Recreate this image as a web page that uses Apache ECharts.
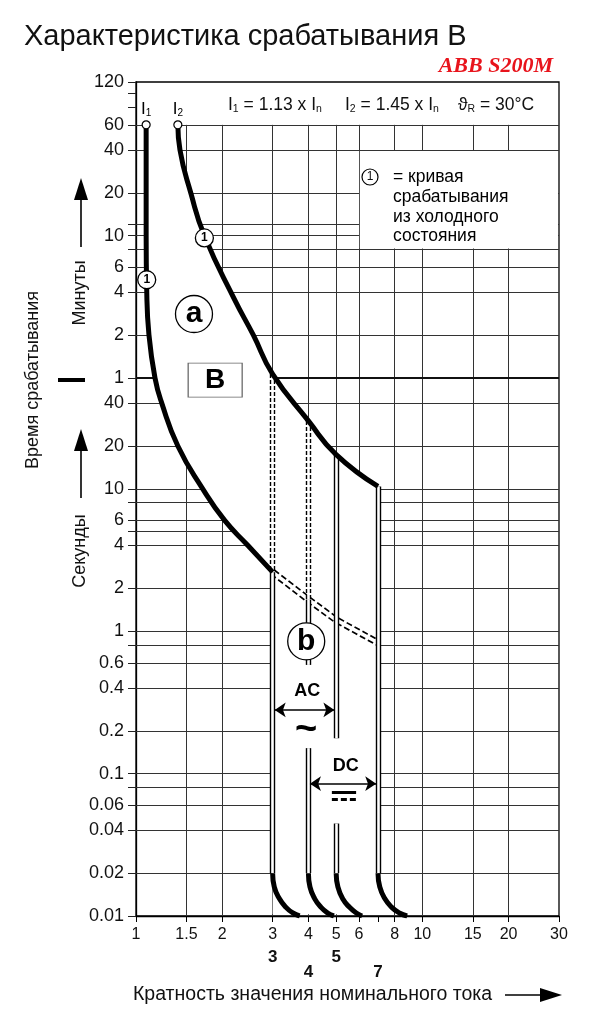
<!DOCTYPE html>
<html>
<head>
<meta charset="utf-8">
<script src="https://cdn.jsdelivr.net/npm/echarts@6/dist/echarts.min.js"></script>
<style>
  html, body { margin: 0; padding: 0; background: #fff; }
  #chart { width: 613px; height: 1024px; }
</style>
</head>
<body>
<div id="chart"></div>
<script>
// x: multiple of rated current, y: tripping time in seconds (minutes above 60 s)
const xLabelValues = [1, 1.5, 2, 3, 4, 5, 6, 8, 10, 15, 20, 30];
const xTickValues = [1, 1.5, 2, 3, 4, 5, 6, 7, 8, 10, 15, 20, 30];
const xGridValues = [1.5, 2, 3, 4, 5, 6, 8, 10, 15, 20];
const xBoldRow1 = [3, 5];
const xBoldRow2 = [4, 7];

const yLabelValues = [7200, 3600, 2400, 1200, 600, 360, 240, 120, 60, 40, 20, 10, 6, 4, 2, 1, 0.6, 0.4, 0.2, 0.1, 0.06, 0.04, 0.02, 0.01];
const yMinorValues = [6000, 4800, 720, 480, 8, 5, 0.8, 0.08];
const yGridValues = [3600, 2400, 1200, 720, 600, 480, 360, 240, 120, 60, 40, 20, 10, 8, 6, 5, 4, 2, 1, 0.8, 0.6, 0.4, 0.2, 0.1, 0.08, 0.06, 0.04, 0.02];

// tripping curves
const curveI1 = [[1.085, 3600], [1.085, 600], [1.09, 250], [1.11, 120], [1.165, 60], [1.23, 40], [1.40, 20], [1.71, 10], [2.04, 6], [2.46, 4], [3, 2.6]];
const curveI2 = [[1.40, 3600], [1.424, 2400], [1.553, 1200], [1.733, 600], [2.205, 215], [2.57, 120], [3, 64], [4, 30], [5, 17.4], [7, 10.4]];
const curveWarm = [[3, 2.6], [4, 1.67], [5, 1.2], [7, 0.83]];
const bend3 = [[3, 0.02], [3.04, 0.016], [3.17, 0.0132], [3.34, 0.0115], [3.53, 0.0105], [3.73, 0.01]];
const bend4 = [[4, 0.02], [4.05, 0.016], [4.21, 0.0132], [4.43, 0.0115], [4.67, 0.0105], [4.91, 0.01]];
const bend5 = [[5, 0.02], [5.07, 0.016], [5.27, 0.0132], [5.57, 0.0115], [5.88, 0.0105], [6.16, 0.01]];
const bend7 = [[7, 0.02], [7.10, 0.016], [7.40, 0.0132], [7.82, 0.0115], [8.31, 0.0105], [8.85, 0.01]];

// double vertical limits: [x, from t, to t]
const dashedLimits = [[3, 64, 2.6], [4, 30, 1.67]];
const solidLimits = [[3, 2.6, 0.02], [4, 1.67, 0.58], [4, 0.151, 0.02], [5, 17.4, 0.177], [5, 0.0446, 0.02], [7, 10.4, 0.02]];

const FONT = '"Liberation Sans", Arial, sans-serif';

const chart = echarts.init(document.getElementById('chart'));

const num = v => String(parseFloat(Number(v).toPrecision(3)));
const fmtY = v => num(v >= 60 ? v / 60 : v);

const gridLines = [
  ...xGridValues.map(x => [{ coord: [x, 0.01] }, { coord: [x, 3600] }]),
  ...yGridValues.map(t => [
    { coord: [1, t], lineStyle: t === 60 ? { width: 1.8, color: '#111' } : undefined },
    { coord: [30, t] }
  ])
];

const limitLine = (arr, dashed) => arr.map(([x, t0, t1]) => [
  { coord: [x, t0], lineStyle: dashed ? { type: [4, 2] } : undefined },
  { coord: [x, t1] }
]);

const curveSeries = data => ({
  type: 'line', data, z: 8, silent: true, showSymbol: false, smooth: 0.5,
  lineStyle: { color: '#000', width: 5, cap: 'butt' }
});

const boldRow = (arr, dy) => arr.map(x => ({
  coord: [x, 0.01], symbolSize: 0,
  label: { show: true, formatter: String(x), offset: [0, dy], fontSize: 17, fontWeight: 'bold', color: '#111', fontFamily: FONT }
}));

const circleMark = (coord, text, size, fontSize) => ({
  coord, symbol: 'circle', symbolSize: size,
  itemStyle: { color: '#fff', borderColor: '#000', borderWidth: 1.3 },
  label: { show: true, position: 'inside', formatter: text, fontSize, fontWeight: 'bold', color: '#000', fontFamily: FONT }
});

const textMark = (coord, text, fontSize) => ({
  coord, symbolSize: 0,
  label: { show: true, position: 'inside', formatter: text, fontSize, fontWeight: 'bold', color: '#000', fontFamily: FONT }
});

const dotMark = (coord, sub) => ({
  coord, symbol: 'circle', symbolSize: 8,
  itemStyle: { color: '#fff', borderColor: '#000', borderWidth: 1.2 },
  label: {
    show: true, position: 'top', distance: 2, formatter: '{i|I}{s|' + sub + '}',
    rich: {
      i: { fontSize: 17, color: '#000', fontFamily: FONT },
      s: { fontSize: 10, color: '#000', fontFamily: FONT, padding: [8, 0, 0, 0] }
    }
  }
});

const subRich = {
  s: { fontSize: 10.5, fill: '#111', fontFamily: FONT, padding: [8, 0, 0, 0] }
};
const headerText = (x, text) => ({
  type: 'text', x, y: 105, z: 100,
  style: { text, rich: subRich, font: '17.5px ' + FONT, fill: '#111', verticalAlign: 'middle' }
});
const plainText = (x, y, text, size, extra) => ({
  type: 'text', x, y, z: 100,
  style: Object.assign({ text, font: size + 'px ' + FONT, fill: '#111', verticalAlign: 'middle' }, extra || {})
});
const vText = (x, y, text) => ({
  type: 'text', x, y, z: 100, rotation: Math.PI / 2,
  style: { text, font: '18px ' + FONT, fill: '#111', align: 'center', verticalAlign: 'middle' }
});
const upArrow = (x, yBottom, yTip) => ([
  { type: 'line', z: 100, shape: { x1: x, y1: yBottom, x2: x, y2: yTip + 18 }, style: { stroke: '#000', lineWidth: 1.6 } },
  { type: 'polygon', z: 100, shape: { points: [[x, yTip], [x - 7, yTip + 22], [x + 7, yTip + 22]] }, style: { fill: '#000' } }
]);

const option = {
  animation: false,
  backgroundColor: '#fff',
  title: {
    text: 'Характеристика срабатывания B',
    left: 19, top: 17,
    textStyle: { fontSize: 29, fontWeight: 'normal', color: '#111', fontFamily: FONT }
  },
  grid: {
    left: 136, top: 82, width: 423, height: 834,
    show: true, borderColor: '#000', borderWidth: 1.3, backgroundColor: 'transparent'
  },
  xAxis: {
    type: 'log', logBase: 10, min: 1, max: 30,
    axisLine: { show: true, lineStyle: { color: '#000', width: 1.3 } },
    axisTick: { show: true, customValues: xTickValues, length: 6, lineStyle: { color: '#000' } },
    axisLabel: { customValues: xLabelValues, formatter: num, fontSize: 16, color: '#111', margin: 11, fontFamily: FONT, hideOverlap: false },
    splitLine: { show: false }
  },
  yAxis: {
    type: 'log', logBase: 10, min: 0.01, max: 7200,
    axisLine: { show: true, lineStyle: { color: '#000', width: 1.3 } },
    axisTick: { show: true, customValues: yLabelValues.concat(yMinorValues), length: 8, lineStyle: { color: '#222' } },
    axisLabel: { customValues: yLabelValues, formatter: fmtY, fontSize: 18, color: '#111', margin: 12, fontFamily: FONT, hideOverlap: false },
    splitLine: { show: false }
  },
  series: [
    {
      // grid lines
      type: 'line', data: [], z: 1, silent: true,
      markLine: {
        z: 1, silent: true, symbol: 'none', label: { show: false }, animation: false,
        lineStyle: { color: '#333', width: 1, type: 'solid' },
        data: gridLines
      }
    },
    {
      // white area between the limits and behind the note
      type: 'custom', z: 2, silent: true, data: [[1, 1]],
      renderItem: (params, api) => {
        const band = curveI1.concat([[3, 0.0103], [7, 0.0103]], curveI2.slice().reverse()).map(p => api.coord(p));
        const a = api.coord([6, 2400]);
        const b = api.coord([30, 480]);
        return {
          type: 'group',
          children: [
            { type: 'polygon', shape: { points: band }, style: { fill: '#fff' } },
            { type: 'rect', shape: { x: a[0] + 1, y: a[1] + 1, width: b[0] - a[0] - 2, height: b[1] - a[1] - 2 }, style: { fill: '#fff' } }
          ]
        };
      }
    },
    {
      type: 'line', data: curveWarm, z: 3, silent: true, showSymbol: false,
      lineStyle: { color: '#000', width: 7, type: [6, 3] }
    },
    {
      type: 'line', data: curveWarm, z: 4, silent: true, showSymbol: false,
      lineStyle: { color: '#fff', width: 3.6 }
    },
    {
      type: 'line', data: [], z: 5, silent: true,
      markLine: {
        z: 5, silent: true, symbol: 'none', label: { show: false }, animation: false,
        lineStyle: { color: '#000', width: 5.4, type: 'solid' },
        data: limitLine(dashedLimits, true).concat(limitLine(solidLimits, false))
      }
    },
    {
      type: 'line', data: [], z: 6, silent: true,
      markLine: {
        z: 6, silent: true, symbol: 'none', label: { show: false }, animation: false,
        lineStyle: { color: '#fff', width: 2.6, type: 'solid' },
        data: limitLine(dashedLimits, false).concat(limitLine(solidLimits, false))
      }
    },
    curveSeries(curveI1),
    curveSeries(curveI2),
    curveSeries(bend3),
    curveSeries(bend4),
    curveSeries(bend5),
    curveSeries(bend7),
    {
      // annotations
      type: 'line', data: [], z: 10, silent: true,
      markPoint: {
        z: 10, silent: true, animation: false,
        data: [
          dotMark([1.085, 3600], '1'),
          dotMark([1.40, 3600], '2'),
          circleMark([1.09, 294], '1', 18, 12),
          circleMark([1.733, 578], '1', 18, 12),
          circleMark([1.594, 169], 'a', 37, 30),
          circleMark([3.93, 0.85], 'b', 37, 30),
          {
            coord: [1.89, 58], symbol: 'rect', symbolSize: [54, 34],
            itemStyle: { color: '#fff', borderColor: '#666', borderWidth: 1 },
            label: { show: true, position: 'inside', formatter: 'B', fontSize: 28, fontWeight: 'bold', color: '#000', fontFamily: FONT }
          },
          textMark([3.96, 0.38], 'AC', 18),
          textMark([3.93, 0.2], '~', 38),
          textMark([5.4, 0.113], 'DC', 18),
          ...boldRow(xBoldRow1, 41),
          ...boldRow(xBoldRow2, 56)
        ]
      },
      markLine: {
        z: 10, silent: true, symbol: 'none', label: { show: false }, animation: false,
        lineStyle: { color: '#000', width: 1.6, type: 'solid' },
        data: [
          [{ coord: [3.05, 0.28], symbol: 'arrow', symbolSize: 11 }, { coord: [4.93, 0.28], symbol: 'arrow', symbolSize: 11 }],
          [{ coord: [4.05, 0.085], symbol: 'arrow', symbolSize: 11 }, { coord: [6.9, 0.085], symbol: 'arrow', symbolSize: 11 }],
          [{ coord: [4.83, 0.0745], lineStyle: { width: 3 } }, { coord: [5.87, 0.0745] }],
          [{ coord: [4.83, 0.0658], lineStyle: { width: 3, type: [6, 3] } }, { coord: [5.87, 0.0658] }]
        ]
      }
    }
  ],
  graphic: [
    plainText(553, 66, 'ABB S200M', 22, { font: 'italic bold 22px "Liberation Serif", serif', fill: '#e8141c', align: 'right' }),
    headerText(228, 'I{s|1} = 1.13 x I{s|n}'),
    headerText(345, 'I{s|2} = 1.45 x I{s|n}'),
    headerText(458, 'ϑ{s|R} = 30°C'),
    { type: 'circle', z: 100, shape: { cx: 370, cy: 177, r: 8 }, style: { fill: '#fff', stroke: '#000', lineWidth: 1.2 } },
    plainText(370, 177, '1', 12, { align: 'center' }),
    plainText(393, 177, '= кривая', 17.5, { fill: '#000' }),
    plainText(393, 197, 'срабатывания', 17.5, { fill: '#000' }),
    plainText(393, 217, 'из холодного', 17.5, { fill: '#000' }),
    plainText(393, 236, 'состояния', 17.5, { fill: '#000' }),
    vText(33, 380, 'Время срабатывания'),
    vText(80, 293, 'Минуты'),
    vText(80, 551, 'Секунды'),
    ...upArrow(81, 247, 178),
    ...upArrow(81, 498, 429),
    { type: 'rect', z: 100, shape: { x: 58, y: 378, width: 27, height: 4 }, style: { fill: '#000' } },
    plainText(133, 995, 'Кратность значения номинального тока', 19.5),
    { type: 'line', z: 100, shape: { x1: 505, y1: 995, x2: 545, y2: 995 }, style: { stroke: '#000', lineWidth: 1.6 } },
    { type: 'polygon', z: 100, shape: { points: [[562, 995], [540, 988], [540, 1002]] }, style: { fill: '#000' } }
  ]
};

chart.setOption(option);
</script>
</body>
</html>
